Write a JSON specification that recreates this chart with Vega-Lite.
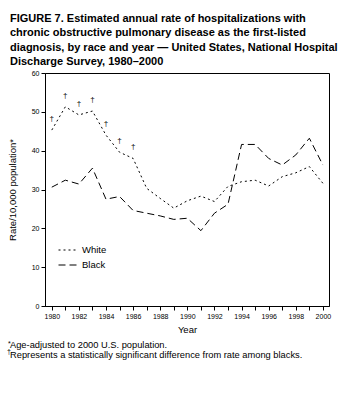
{
  "$schema": "https://vega.github.io/schema/vega-lite/v6.json",
  "width": 284,
  "height": 233,
  "autosize": "none",
  "padding": {"left": 45, "top": 73, "right": 19, "bottom": 87},
  "background": "white",
  "config": {
    "font": "Liberation Sans",
    "view": {"stroke": "black", "strokeWidth": 1},
    "axis": {"domainColor": "black", "tickColor": "black", "labelColor": "black", "titleColor": "black", "grid": false, "titleFontWeight": "normal", "labelFont": "Liberation Sans", "titleFont": "Liberation Sans", "labelOverlap": false, "labelFontSize": 7, "tickSize": 4, "labelPadding": 2}
  },
  "title": {
    "text": ["FIGURE 7. Estimated annual rate of hospitalizations with", "chronic obstructive pulmonary disease as the first-listed", "diagnosis, by race and year — United States, National Hospital", "Discharge Survey, 1980–2000"],
    "anchor": "start",
    "frame": "group",
    "dx": -35,
    "offset": 2,
    "fontSize": 11,
    "fontWeight": "bold",
    "lineHeight": 14.5,
    "color": "black",
    "font": "Liberation Sans"
  },
  "data": {
    "values": [
      {"year": 1980, "race": "White", "rate": 45.3, "sig": true},
      {"year": 1981, "race": "White", "rate": 51.3, "sig": true},
      {"year": 1982, "race": "White", "rate": 49.2, "sig": true},
      {"year": 1983, "race": "White", "rate": 50.2, "sig": true},
      {"year": 1984, "race": "White", "rate": 44.0, "sig": true},
      {"year": 1985, "race": "White", "rate": 39.6, "sig": true},
      {"year": 1986, "race": "White", "rate": 38.0, "sig": true},
      {"year": 1987, "race": "White", "rate": 30.3, "sig": false},
      {"year": 1988, "race": "White", "rate": 27.7, "sig": false},
      {"year": 1989, "race": "White", "rate": 25.2, "sig": false},
      {"year": 1990, "race": "White", "rate": 27.1, "sig": false},
      {"year": 1991, "race": "White", "rate": 28.3, "sig": false},
      {"year": 1992, "race": "White", "rate": 26.9, "sig": false},
      {"year": 1993, "race": "White", "rate": 30.8, "sig": false},
      {"year": 1994, "race": "White", "rate": 32.0, "sig": false},
      {"year": 1995, "race": "White", "rate": 32.4, "sig": false},
      {"year": 1996, "race": "White", "rate": 30.9, "sig": false},
      {"year": 1997, "race": "White", "rate": 33.3, "sig": false},
      {"year": 1998, "race": "White", "rate": 34.3, "sig": false},
      {"year": 1999, "race": "White", "rate": 35.9, "sig": false},
      {"year": 2000, "race": "White", "rate": 31.6, "sig": false},
      {"year": 1980, "race": "Black", "rate": 30.6, "sig": false},
      {"year": 1981, "race": "Black", "rate": 32.4, "sig": false},
      {"year": 1982, "race": "Black", "rate": 31.4, "sig": false},
      {"year": 1983, "race": "Black", "rate": 35.5, "sig": false},
      {"year": 1984, "race": "Black", "rate": 27.5, "sig": false},
      {"year": 1985, "race": "Black", "rate": 28.2, "sig": false},
      {"year": 1986, "race": "Black", "rate": 24.6, "sig": false},
      {"year": 1987, "race": "Black", "rate": 23.9, "sig": false},
      {"year": 1988, "race": "Black", "rate": 23.2, "sig": false},
      {"year": 1989, "race": "Black", "rate": 22.3, "sig": false},
      {"year": 1990, "race": "Black", "rate": 22.6, "sig": false},
      {"year": 1991, "race": "Black", "rate": 19.4, "sig": false},
      {"year": 1992, "race": "Black", "rate": 23.9, "sig": false},
      {"year": 1993, "race": "Black", "rate": 26.2, "sig": false},
      {"year": 1994, "race": "Black", "rate": 41.6, "sig": false},
      {"year": 1995, "race": "Black", "rate": 41.6, "sig": false},
      {"year": 1996, "race": "Black", "rate": 38.0, "sig": false},
      {"year": 1997, "race": "Black", "rate": 36.3, "sig": false},
      {"year": 1998, "race": "Black", "rate": 38.9, "sig": false},
      {"year": 1999, "race": "Black", "rate": 43.2, "sig": false},
      {"year": 2000, "race": "Black", "rate": 36.3, "sig": false}
    ]
  },
  "layer": [
    {
      "encoding": {
        "x": {
          "field": "year", "type": "quantitative",
          "scale": {"domain": [1979.5, 2000.45], "nice": false, "zero": false},
          "axis": {
            "title": "Year", "titleFontSize": 9.5, "titlePadding": 5,
            "values": [1980,1981,1982,1983,1984,1985,1986,1987,1988,1989,1990,1991,1992,1993,1994,1995,1996,1997,1998,1999,2000],
            "labelExpr": "datum.value % 2 == 0 ? '' + datum.value : ''",
            "labelFlush": false, "labelOverlap": false, "labelBound": false
          }
        },
        "y": {
          "field": "rate", "type": "quantitative",
          "scale": {"domain": [0, 60], "nice": false},
          "axis": {
            "title": "Rate/10,000 population*", "titleFontSize": 9.5, "titlePadding": 14,
            "values": [0, 10, 20, 30, 40, 50, 60],
            "labelOverlap": false, "labelFlush": false, "labelBound": false
          }
        }
      },
      "layer": [
        {
          "mark": {"type": "line", "color": "black", "strokeWidth": 1},
          "encoding": {
            "strokeDash": {
              "field": "race", "type": "nominal",
              "scale": {"domain": ["White", "Black"], "range": [[2, 3], [7, 4]]},
              "legend": {
                "title": null, "orient": "none", "legendX": 13, "legendY": 167,
                "symbolType": "stroke", "symbolSize": 360, "symbolStrokeWidth": 1,
                "symbolStrokeColor": "black", "labelFontSize": 9.5, "labelColor": "black",
                "rowPadding": 0, "labelOffset": 4
              }
            }
          }
        },
        {
          "transform": [{"filter": "datum.sig"}],
          "mark": {"type": "text", "text": "†", "dy": -11, "fontSize": 8, "color": "black"}
        }
      ]
    },
    {
      "data": {"values": [{"t": "Age-adjusted to 2000 U.S. population."}]},
      "mark": {"type": "text", "align": "left", "baseline": "alphabetic", "fontSize": 9.3, "color": "black", "x": -35, "y": {"expr": "height + 42"}},
      "encoding": {"text": {"field": "t"}}
    },
    {
      "data": {"values": [{"t": "Represents a statistically significant difference from rate among blacks."}]},
      "mark": {"type": "text", "align": "left", "baseline": "alphabetic", "fontSize": 9.3, "color": "black", "x": -35, "y": {"expr": "height + 52"}},
      "encoding": {"text": {"field": "t"}}
    },
    {
      "data": {"values": [{"t": "*"}]},
      "mark": {"type": "text", "align": "left", "baseline": "alphabetic", "fontSize": 7, "color": "black", "x": -37, "y": {"expr": "height + 40"}},
      "encoding": {"text": {"field": "t"}}
    },
    {
      "data": {"values": [{"t": "†"}]},
      "mark": {"type": "text", "align": "left", "baseline": "alphabetic", "fontSize": 7, "color": "black", "x": -38, "y": {"expr": "height + 48"}},
      "encoding": {"text": {"field": "t"}}
    }
  ]
}
